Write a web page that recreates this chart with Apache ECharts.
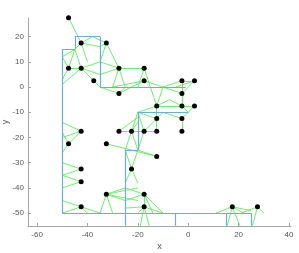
<!DOCTYPE html>
<html><head><meta charset="utf-8">
<script src="https://cdn.jsdelivr.net/npm/echarts@6/dist/echarts.min.js"></script>
<style>html,body{margin:0;padding:0;background:#fff}#c{width:299px;height:253px}</style>
</head><body><div id="c"></div>
<script>
const dotX = [-47.5,-42.5,-32.5,-47.5,-42.5,-27.5,-17.5,-37.5,-17.5,-2.5,2.5,-27.5,-2.5,-12.5,-2.5,2.5,-12.5,-2.5,
  -42.5,-27.5,-22.5,-17.5,-12.5,-2.5,-47.5,-32.5,-12.5,-42.5,-22.5,-42.5,-32.5,-17.5,-42.5,-17.5,17.5,27.5];
const dotY = [27.5,17.5,17.5,7.5,7.5,7.5,7.5,2.5,2.5,2.5,2.5,-2.5,-2.5,-7.5,-7.5,-7.5,-12.5,-12.5,
  -17.5,-17.5,-17.5,-17.5,-17.5,-17.5,-22.5,-22.5,-27.5,-32.5,-32.5,-37.5,-42.5,-42.5,-47.5,-47.5,-47.5,-47.5];

// blue segments [x1, y1, x2, y2]
const blueSegments = [
  [-50,15,-45,15],[-45,15,-45,20],[-45,20,-35,20],[-35,20,-35,0],[-35,0,-1,0],
  [-50,15,-50,-50],[-50,-50,25,-50],[25,-50,25,-55],[15,-50,15,-55],[-5,-50,-5,-55],
  [-25,-25,-25,-55],[-25,-25,-20,-25],[-20,-25,-20,-10],[-20,-10,0,-10]
];

// green segments [x1, y1, x2, y2]
const greenSegments = [
  [-47.5,27.5,-42.5,17.5],[-45,15,-42.5,17.5],[-42.5,17.5,-38,20],[-38,20,-32.5,17.5],
  [-42.5,17.5,-35,16],[-35,16,-32.5,17.5],[-50,12,-45,15],[-50,12,-47.5,7.5],
  [-45,15,-47.5,7.5],[-45,15,-42.5,7.5],[-47.5,7.5,-50,3],[-42.5,7.5,-50,1],
  [-47.5,7.5,-42.5,7.5],[-42.5,7.5,-35,10],[-35,10,-27.5,7.5],[-32.5,17.5,-35,10],
  [-32.5,17.5,-27.5,7.5],[-42.5,7.5,-37.5,2.5],[-42.5,7.5,-35,5],[-35,5,-27.5,7.5],
  [-37.5,2.5,-35,0],[-27.5,7.5,-30,0],[-27.5,7.5,-25,0],[-27.5,7.5,-17.5,7.5],
  [-35,0,-27.5,-2.5],[-27.5,-2.5,-25,0],[-27.5,-2.5,-17.5,2.5],[-30,0,-17.5,2.5],
  [-17.5,7.5,-20,0],[-17.5,7.5,-15,0],[-17.5,2.5,-10,0],[-10,0,-2.5,2.5],
  [-10,0,-12.5,-7.5],[-15,0,-12.5,-7.5],[-2.5,2.5,2.5,2.5],[-2.5,2.5,-2.5,-2.5],
  [2.5,2.5,-2.5,-2.5],[-10,0,-2.5,-2.5],[-2.5,-2.5,-2.5,-7.5],[-12.5,-7.5,-7.5,-5],
  [-7.5,-5,-2.5,-7.5],[-12.5,-7.5,-2.5,-7.5],[-2.5,-7.5,2.5,-7.5],[-20,-10,-12.5,-7.5],
  [-20,-10,-12.5,-12.5],[-12.5,-7.5,-12.5,-12.5],[-12.5,-12.5,-10,-10],[-10,-10,-2.5,-12.5],
  [-2.5,-7.5,0,-10],[0,-10,-2.5,-12.5],[2.5,-7.5,0,-10],[-2.5,-12.5,-2.5,-17.5],
  [-12.5,-12.5,-12.5,-17.5],[-12.5,-12.5,-17.5,-17.5],[-20,-10,-17.5,-17.5],[-20,-14,-22.5,-17.5],
  [-20,-12,-27.5,-17.5],[-20,-10,-22.5,-17.5],[-27.5,-17.5,-22.5,-17.5],[-22.5,-17.5,-17.5,-17.5],
  [-17.5,-17.5,-12.5,-17.5],[-22.5,-17.5,-25,-25],[-22.5,-17.5,-20,-25],[-17.5,-17.5,-20,-25],
  [-20,-25,-12.5,-27.5],[-32.5,-22.5,-12.5,-27.5],
  [-50,-14,-42.5,-17.5],[-42.5,-17.5,-50,-20],[-50,-18,-47.5,-22.5],[-47.5,-22.5,-42.5,-17.5],
  [-47.5,-22.5,-50,-26],[-50,-30,-42.5,-32.5],[-42.5,-32.5,-50,-35],[-50,-35,-42.5,-37.5],
  [-42.5,-37.5,-50,-40],[-50,-45,-42.5,-47.5],[-42.5,-47.5,-50,-50],[-42.5,-47.5,-40,-50],
  [-42.5,-47.5,-35,-50],[-32.5,-42.5,-35,-50],[-32.5,-42.5,-30,-50],[-32.5,-42.5,-25,-40],
  [-32.5,-42.5,-25,-45],[-32.5,-42.5,-20,-40],[-22.5,-32.5,-25,-25],[-22.5,-32.5,-20,-25],
  [-17.5,-42.5,-25,-40],[-17.5,-42.5,-25,-45],[-17.5,-42.5,-17.5,-47.5],[-17.5,-42.5,-14,-50],
  [-17.5,-47.5,-25,-48],[-17.5,-47.5,-10,-50],[-17.5,-47.5,-19,-55],[-17.5,-47.5,-15.5,-55],
  [17.5,-47.5,11,-50],[17.5,-47.5,15.5,-55],[17.5,-47.5,20.5,-55],[17.5,-47.5,22,-50],
  [17.5,-47.5,25,-49],[27.5,-47.5,21,-50],[27.5,-47.5,25.5,-55],[27.5,-47.5,30,-50],
  [-32.5,-42.5,-20,-45],[-22.5,-32.5,-25,-38],[-22.5,-32.5,-20,-38],[-17.5,-42.5,-10,-50],
  [-17.5,-47.5,-20,-50],[2.5,2.5,-5,0],[-42.5,17.5,-40,10]
];

const xTicks = [-60,-40,-20,0,20,40];
const yTicks = [-50,-40,-30,-20,-10,0,10,20];

const toLines = segs => segs.map(s => ({coords: [[s[0], s[1]], [s[2], s[3]]]}));

const chart = echarts.init(document.getElementById('c'), null, {renderer: 'canvas'});
const axisCommon = {
  type: 'value',
  splitLine: {show: false},
  nameMoveOverlap: false,
  axisLine: {show: true, onZero: false, lineStyle: {color: '#a6a6a6', width: 1}},
  nameTextStyle: {color: '#555', fontSize: 9, fontFamily: 'Liberation Sans'}
};
chart.setOption({
  animation: false,
  backgroundColor: '#fff',
  grid: {left: 28, top: 18, width: 263, height: 208, containLabel: false, outerBoundsMode: 'none'},
  xAxis: Object.assign({}, axisCommon, {
    min: -63.6, max: 40.8,
    name: 'x', nameLocation: 'middle', nameGap: 16,
    axisTick: {show: true, inside: true, length: 3, customValues: xTicks, lineStyle: {color: '#a6a6a6'}},
    axisLabel: {customValues: xTicks, color: '#555', fontSize: 8, margin: 5, fontFamily: 'Liberation Sans'}
  }),
  yAxis: Object.assign({}, axisCommon, {
    min: -55.1, max: 27.4,
    name: 'y', nameLocation: 'middle', nameGap: 18,
    axisTick: {show: true, inside: true, length: 3, customValues: yTicks, lineStyle: {color: '#a6a6a6'}},
    axisLabel: {customValues: yTicks, color: '#555', fontSize: 8, margin: 4, fontFamily: 'Liberation Sans'}
  }),
  series: [
    {type: 'lines', coordinateSystem: 'cartesian2d', data: toLines(greenSegments), silent: true,
     lineStyle: {color: '#5cee5c', width: 0.9, opacity: 1}, z: 2},
    {type: 'lines', coordinateSystem: 'cartesian2d', data: toLines(blueSegments), silent: true,
     lineStyle: {color: '#6aaede', width: 1.2, opacity: 1}, z: 3},
    {type: 'scatter', data: dotX.map((x, i) => [x, dotY[i]]), symbolSize: 5, clip: false,
     itemStyle: {color: '#000', opacity: 1}, z: 4}
  ]
});
</script>
</body></html>
